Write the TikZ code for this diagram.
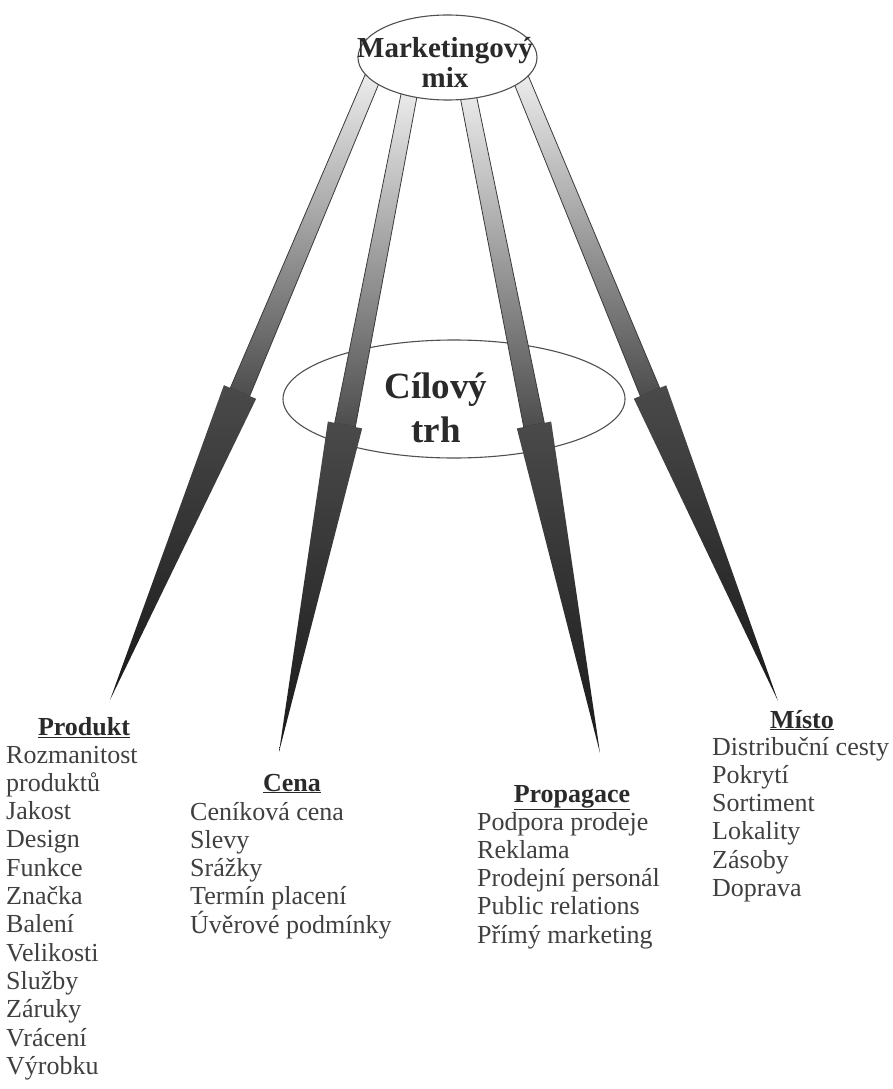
\documentclass[tikz,border=0pt]{standalone}
\usepackage{fontspec}
\setmainfont{Liberation Serif}
\usetikzlibrary{calc,shapes.geometric}
\definecolor{txt}{HTML}{404040}
\definecolor{ttlc}{HTML}{2A2A2A}
\definecolor{ellc}{HTML}{505050}
\definecolor{shafttop}{HTML}{EFEFEF}
\definecolor{shaftbot}{HTML}{4D4D4D}
\definecolor{shaftline}{HTML}{3A3A3A}
\definecolor{headtop}{HTML}{4A4A4A}
\definecolor{headbot}{HTML}{1A1A1A}
\newcommand\mmarrow[3]{%
  \path[shaft] ($(#1)!8pt!90:(#3)$) -- ($(#2)!10.5pt!90:(#3)$) -- ($(#2)!10.5pt!-90:(#3)$) -- ($(#1)!8pt!-90:(#3)$) -- cycle;
  \path[head] ($(#2)!17.5pt!90:(#3)$) -- (#3) -- ($(#2)!17.5pt!-90:(#3)$) -- cycle;
}
\begin{document}
\begin{tikzpicture}[x=1pt,y=-1pt,
  lbl/.style={anchor=base west, inner sep=0pt, text=txt, font=\fontsize{26}{28}\selectfont},
  ttl/.style={anchor=base, inner sep=0pt, text=ttlc, font=\fontsize{26}{28}\selectfont\bfseries},
  shaft/.style={draw=shaftline, line width=0.8pt, top color=shafttop, bottom color=shaftbot},
  head/.style={top color=headtop, bottom color=headbot},
  ell/.style={ellipse, draw=ellc, line width=1.1pt, inner sep=0pt}
]
\useasboundingbox (0,0) rectangle (892,1089);
\fill[white] (0,0) rectangle (892,1089);

% target market ellipse (under arrows)
\node[ell, minimum width=342pt, minimum height=118pt] (cil) at (454,399) {};

% arrow coordinates
\coordinate (s1) at (375,72);  \coordinate (m1) at (240,392); \coordinate (t1) at (110,700);
\coordinate (s2) at (411,85);  \coordinate (m2) at (345,425); \coordinate (t2) at (279,752);
\coordinate (s3) at (466,85);  \coordinate (m3) at (534,425); \coordinate (t3) at (600,753);
\coordinate (s4) at (518,72);  \coordinate (m4) at (650,392); \coordinate (t4) at (778,701);

\mmarrow{s1}{m1}{t1}
\mmarrow{s2}{m2}{t2}
\mmarrow{s3}{m3}{t3}
\mmarrow{s4}{m4}{t4}

% marketing mix ellipse
\node[ell, fill=white, minimum width=179pt, minimum height=85pt] (mix) at (447.5,57.5) {};
\node[anchor=base, inner sep=0pt, text=ttlc, font=\fontsize{29}{30}\selectfont\bfseries] (mixa) at (445,58) {Marketingový};
\node[anchor=base, inner sep=0pt, text=ttlc, font=\fontsize{29}{30}\selectfont\bfseries] (mixb) at (445,88) {mix};

\node[anchor=base, inner sep=0pt, text=ttlc, font=\fontsize{37}{40}\selectfont\bfseries] (cila) at (436,398) {Cílový};
\node[anchor=base, inner sep=0pt, text=ttlc, font=\fontsize{37}{40}\selectfont\bfseries] (cilb) at (436,442) {trh};

% Produkt
\node[ttl] (produkt) at (84,735) {\underline{Produkt}};
\foreach \t [count=\i from 0] in {Rozmanitost, produktů, Jakost, Design, Funkce, Značka, Balení, Velikosti, Služby, Záruky, Vrácení, Výrobku}
  \node[lbl] (pr\i) at (6,763+28.3*\i) {\t};

% Cena
\node[ttl] (cena) at (292,791) {\underline{Cena}};
\foreach \t [count=\i from 0] in {Ceníková cena, Slevy, Srážky, Termín placení, Úvěrové podmínky}
  \node[lbl] (ce\i) at (190,820+28.3*\i) {\t};

% Propagace
\node[ttl] (propagace) at (572,802) {\underline{Propagace}};
\foreach \t [count=\i from 0] in {Podpora prodeje, Reklama, Prodejní personál, Public relations, Přímý marketing}
  \node[lbl] (pp\i) at (477,830+28.3*\i) {\t};

% Misto
\node[ttl] (misto) at (802,728) {\underline{Místo}};
\foreach \t [count=\i from 0] in {Distribuční cesty, Pokrytí, Sortiment, Lokality, Zásoby, Doprava}
  \node[lbl] (mi\i) at (712,755+28.3*\i) {\t};
\end{tikzpicture}
\end{document}
